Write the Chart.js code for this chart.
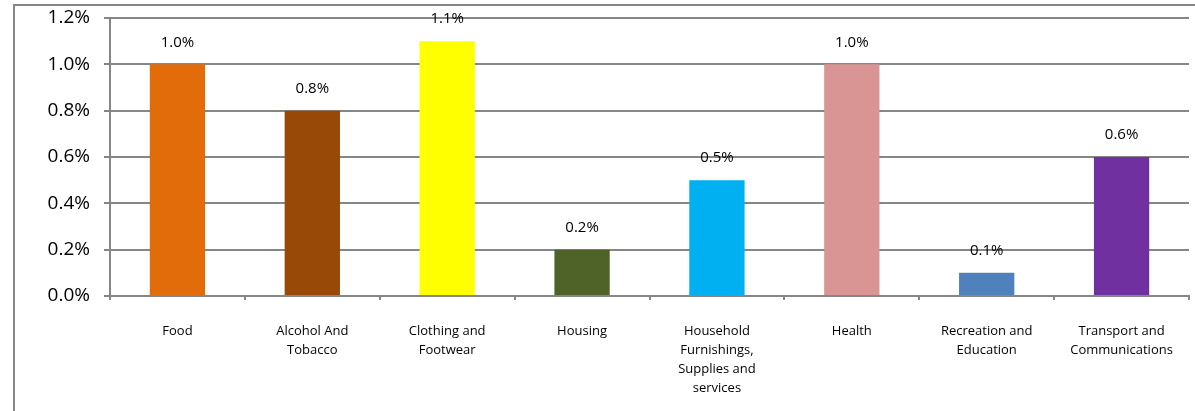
<!DOCTYPE html>
<html>
<head>
<meta charset="utf-8">
<script src="https://cdn.jsdelivr.net/npm/chart.js@4"></script>
<style>
  html, body { margin: 0; padding: 0; background: #fff; }
  #wrap { width: 1195px; height: 411px; position: relative; }
</style>
</head>
<body>
<div id="wrap"><canvas id="myChart"></canvas></div>
<script>
// Data
const CATEGORIES = [
  'Food',
  ['Alcohol And', 'Tobacco'],
  ['Clothing and', 'Footwear'],
  'Housing',
  ['Household', 'Furnishings,', 'Supplies and', 'services'],
  'Health',
  ['Recreation and', 'Education'],
  ['Transport and', 'Communications']
];
const VALUES = [1.0, 0.8, 1.1, 0.2, 0.5, 1.0, 0.1, 0.6];
const BAR_COLORS = ['#E36C0A', '#984807', '#FFFF00', '#4F6228', '#00B0F0', '#D99594', '#4F81BD', '#7030A0'];
const Y_TICKS = [0, 0.2, 0.4, 0.6, 0.8, 1.0, 1.2];

const FONT = "'Open Sans', 'Noto Sans', sans-serif";
const GREY = '#868686';

// outer frame (left + top edges visible)
const framePlugin = {
  id: 'frame',
  beforeDraw: (chart) => {
    const c = chart.ctx;
    c.save();
    c.strokeStyle = GREY;
    c.lineWidth = 2;
    c.beginPath();
    c.moveTo(14, chart.height);
    c.lineTo(14, 5);
    c.lineTo(chart.width, 5);
    c.stroke();
    c.restore();
  }
};

// value labels above bars
const labelPlugin = {
  id: 'valueLabels',
  afterDatasetsDraw: (chart) => {
    const c = chart.ctx;
    const meta = chart.getDatasetMeta(0);
    c.save();
    c.font = `15px ${FONT}`;
    c.fillStyle = '#000';
    c.textAlign = 'center';
    c.textBaseline = 'middle';
    meta.data.forEach((bar, i) => {
      c.fillText(VALUES[i].toFixed(1) + '%', bar.x, bar.y - 22);
    });
    c.restore();
  }
};

const ctx = document.getElementById('myChart');
new Chart(ctx, {
  type: 'bar',
  data: {
    labels: CATEGORIES,
    datasets: [{
      data: VALUES,
      backgroundColor: BAR_COLORS,
      borderWidth: 0,
      categoryPercentage: 1.0,
      barPercentage: 0.41
    }]
  },
  options: {
    responsive: true,
    maintainAspectRatio: false,
    animation: false,
    layout: { padding: { left: 14, top: 18, right: 6, bottom: 0 } },
    plugins: {
      legend: { display: false },
      tooltip: { enabled: false }
    },
    scales: {
      y: {
        min: 0,
        max: 1.2,
        afterFit: (axis) => {
          axis.width = 96;
          axis.paddingTop = 0;
          axis.paddingBottom = 0;
        },
        afterBuildTicks: (axis) => { axis.ticks = Y_TICKS.map(v => ({ value: v })); },
        ticks: {
          callback: (v) => v.toFixed(1) + '%',
          font: { family: FONT, size: 19 },
          color: '#000',
          padding: 14
        },
        grid: { color: GREY, lineWidth: 2, tickLength: 6 },
        border: { color: GREY, width: 2 }
      },
      x: {
        afterFit: (axis) => {
          axis.height = 115;
          axis.paddingLeft = 0;
          axis.paddingRight = 0;
        },
        ticks: {
          font: { family: FONT, size: 13, lineHeight: 1.45 },
          color: '#000',
          padding: 22,
          maxRotation: 0,
          autoSkip: false
        },
        grid: { offset: true, drawOnChartArea: false, color: GREY, lineWidth: 2, tickLength: 4 },
        border: { color: GREY, width: 2 }
      }
    }
  },
  plugins: [framePlugin, labelPlugin]
});
</script>
</body>
</html>
